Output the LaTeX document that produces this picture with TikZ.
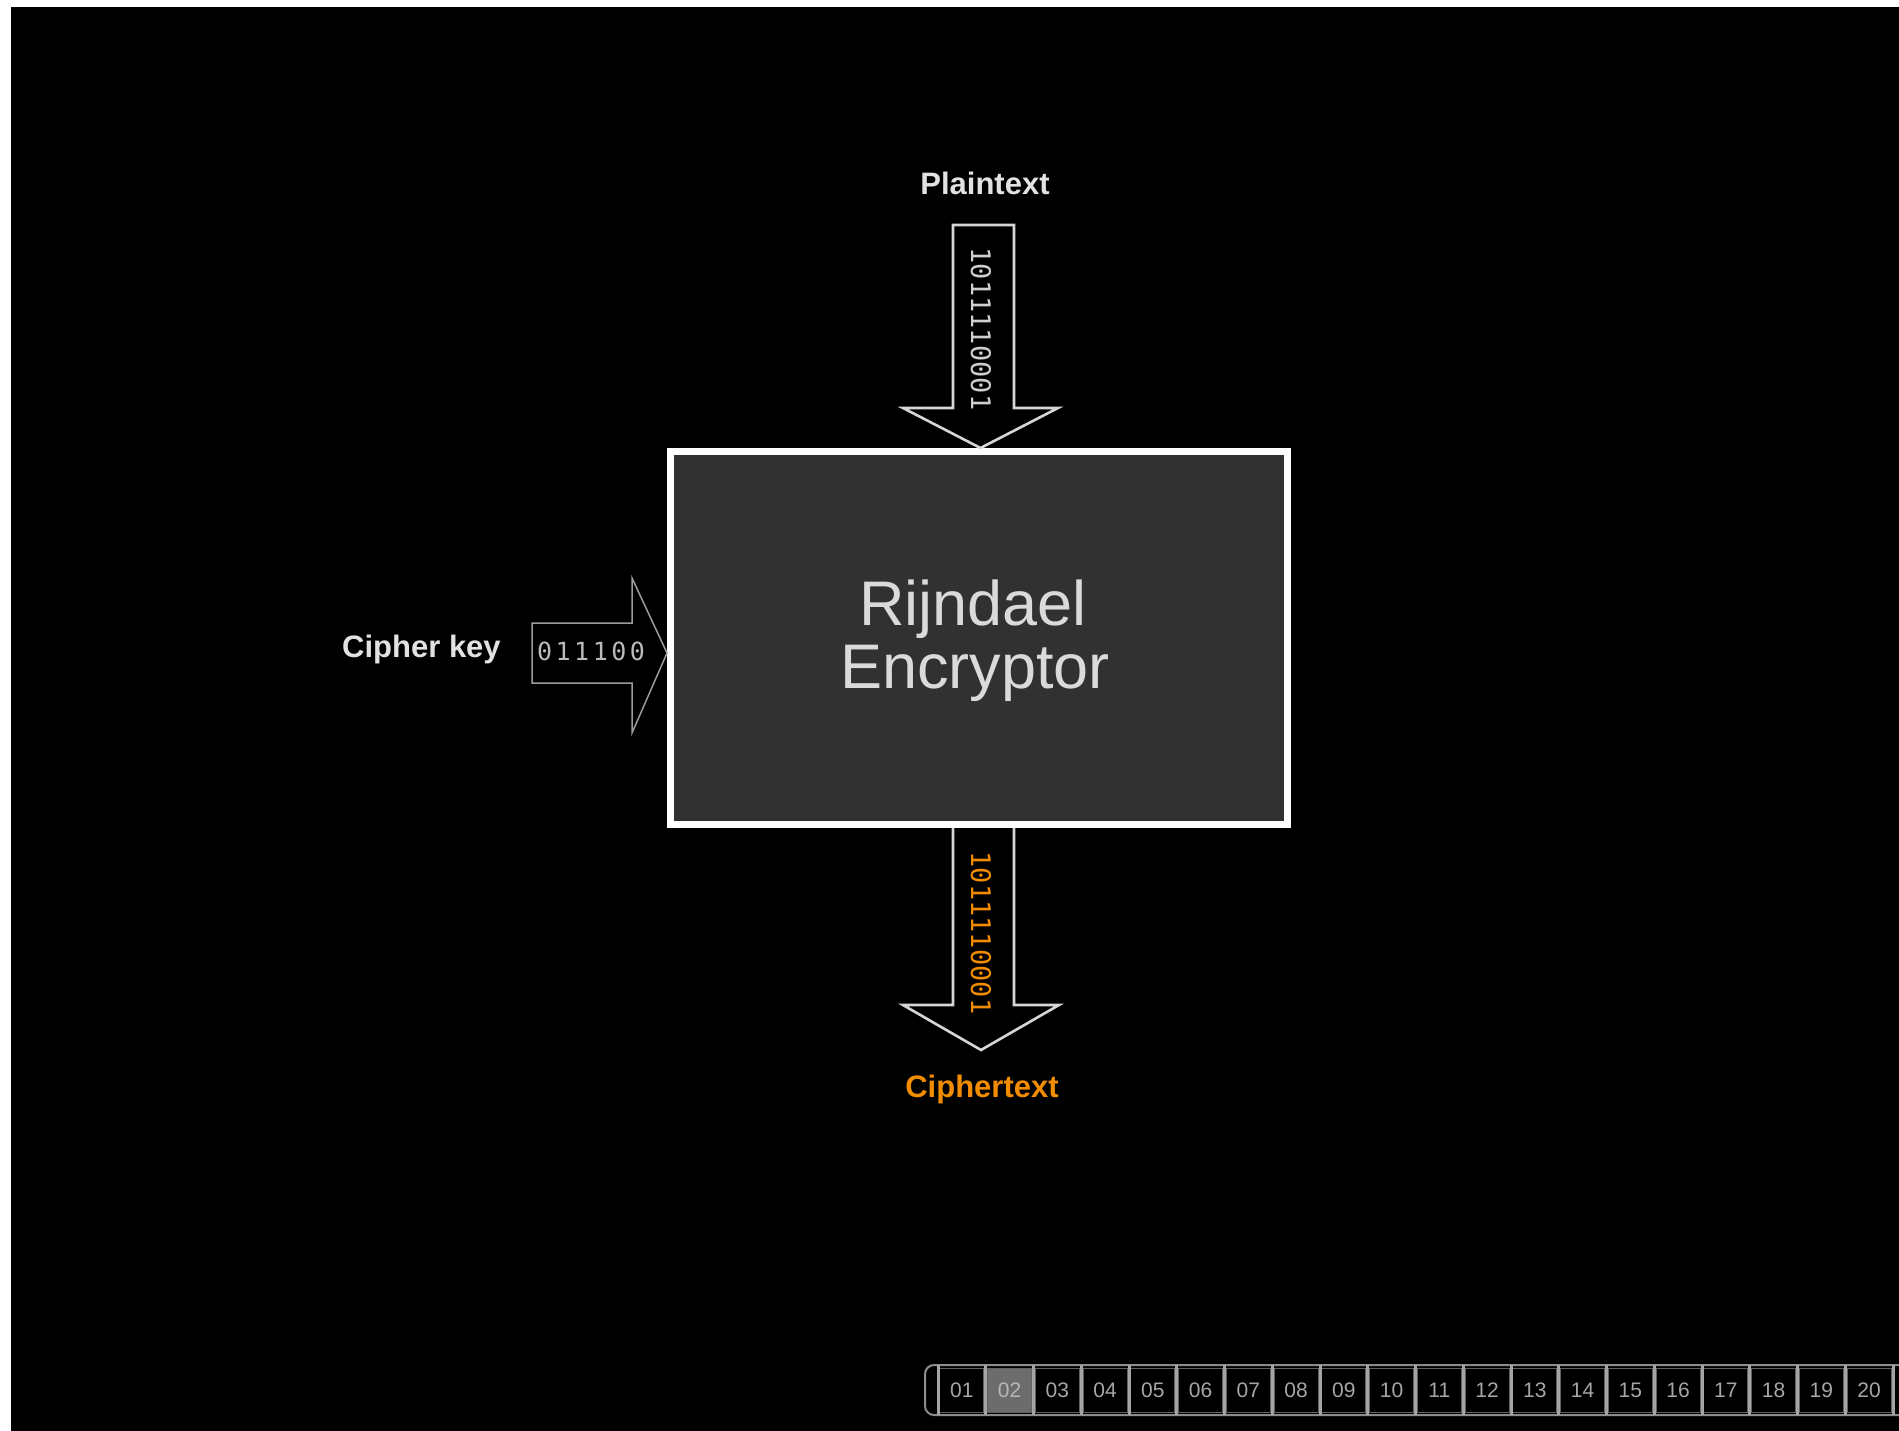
\documentclass[tikz,border=0pt]{standalone}
\usepackage{fontspec}
\setmainfont{Liberation Sans}
\newfontfamily\bitsfont{DejaVu Sans Mono}

\definecolor{boxfill}{HTML}{313131}
\definecolor{labelgray}{HTML}{E2E2E2}
\definecolor{titlegray}{HTML}{DADADA}
\definecolor{arrowgray}{HTML}{D6D6D6}
\definecolor{keygray}{HTML}{9C9C9C}
\definecolor{bitsgray}{HTML}{CFCFCF}
\definecolor{cipherorange}{HTML}{F28C00}
\definecolor{navline}{HTML}{8C8C8C}
\definecolor{navsepc}{HTML}{A4A4A4}
\definecolor{navtext}{HTML}{A6A6A6}
\definecolor{navsel}{HTML}{6C6C6C}

\tikzset{
  iolabel/.style={inner sep=0pt, text=labelgray,
    font=\bfseries\fontsize{31}{36}\selectfont},
  bits/.style={inner sep=0pt, rotate=-90, text=bitsgray,
    font=\bitsfont\fontsize{27}{27}\selectfont},
  blockarrow/.style={draw=arrowgray, line width=2.6pt, line join=miter},
  keyarrow/.style={draw=keygray, line width=1.5pt, line join=miter},
  encbox/.style={draw=white, line width=7pt, fill=boxfill,
    minimum width=617pt, minimum height=373pt, inner sep=0pt},
  enctitle/.style={inner sep=0pt, text=titlegray, align=center,
    font=\fontsize{63}{63}\selectfont},
  navcell/.style={draw=navline!70!black, line width=1pt, inner sep=0pt,
    minimum width=44pt, minimum height=44pt, text=navtext,
    font=\fontsize{21}{21}\selectfont},
  navsep/.style={draw=navsepc, line width=3pt},
}

\begin{document}
\begin{tikzpicture}[x=1pt,y=-1pt]
  % page and black backdrop
  \useasboundingbox (0,0) rectangle (1899,1431);
  \clip (0,0) rectangle (1899,1431);
  \fill[white] (0,0) rectangle (1899,1431);
  \fill[black] (11,7) rectangle (1899,1431);

  % encryptor block
  \node[encbox] (enc) at (979,638) {};
  \node[enctitle, anchor=base] (title1) at (973,625) {Rijndael};
  \node[enctitle, anchor=base] (title2) at (975,688) {Encryptor};

  % plaintext input arrow
  \node[iolabel, anchor=base] (plain) at (985,195) {Plaintext};
  \coordinate (ptip) at (enc.north -| 980.5,0);
  \draw[blockarrow] (953,225) -- (1014,225) -- (1014,408) -- (1058,408)
    -- (ptip) -- (903,408) -- (953,408) -- cycle;
  \node[bits] (plainbits) at (981,329) {1011110001};

  % cipher key arrow
  \node[iolabel, anchor=base] (key) at (421.5,657) {Cipher key};
  \coordinate (ktip) at (enc.west |- 0,653);
  \draw[keyarrow] (532,623) -- (632,623) -- (632,578) -- (ktip)
    -- (632,733) -- (632,683) -- (532,683) -- cycle;
  \node[inner sep=0pt, text=bitsgray!90!black,
    font=\bitsfont\fontsize{25}{25}\selectfont] (keybits) at (591,651)
    {0\kern3.5pt1\kern3.5pt1\kern3.5pt1\kern3.5pt0\kern3.5pt0};

  % ciphertext output arrow
  \coordinate (ctop) at (enc.south -| 953,0);
  \draw[blockarrow] (ctop) -- (953,1005) -- (903,1005) -- (981,1050)
    -- (1059,1005) -- (1014,1005) -- (enc.south -| 1014,0);
  \node[bits, text=cipherorange] (cipherbits) at (981,933) {1011110001};
  \node[iolabel, anchor=base, text=cipherorange] (cipher) at (982,1097)
    {Ciphertext};

  % slide navigator
  \draw[navline, line width=2pt, rounded corners=9pt]
    (925,1365) rectangle (1915,1415);
  \foreach \k in {1,...,20}{
    \pgfmathsetmacro{\cx}{938+(\k-0.5)*47.75}
    \ifnum\k=2
      \node[navcell, fill=navsel, text=navtext!80!white] (c\k) at (\cx,1390)
        {\ifnum\k<10 0\fi\k};
    \else
      \node[navcell] (c\k) at (\cx,1390) {\ifnum\k<10 0\fi\k};
    \fi
  }
  \foreach \k in {0,...,20}{
    \pgfmathsetmacro{\sx}{938+\k*47.75}
    \draw[navsep] (\sx,1365) -- (\sx,1415);
  }
\end{tikzpicture}
\end{document}
